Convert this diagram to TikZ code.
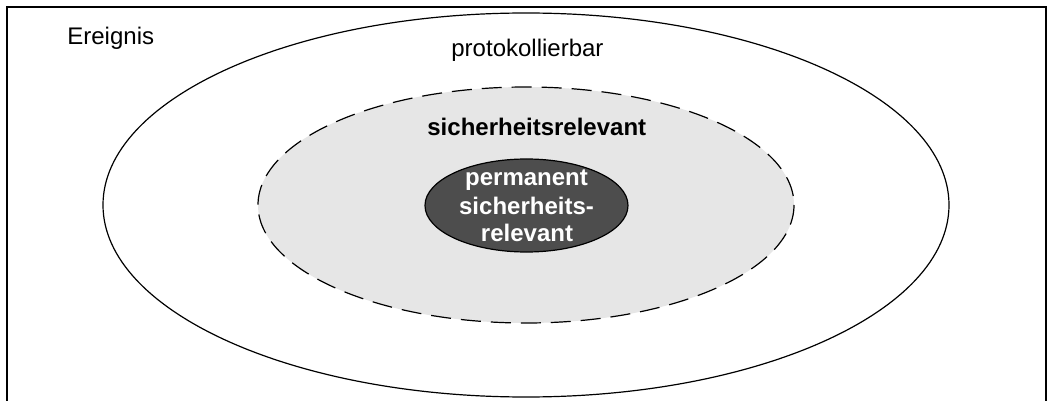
\documentclass[tikz,border=0pt]{standalone}
\usepackage{fontspec}
\setmainfont{Liberation Sans}
\usetikzlibrary{shapes.geometric}
\definecolor{midgray}{HTML}{E6E6E6}
\definecolor{darkgray}{HTML}{4D4D4D}
\tikzset{
  lbl/.style={font=\fontsize{12}{14.25}\selectfont, inner sep=0pt},
  boldlbl/.style={font=\fontsize{12}{14.25}\selectfont\bfseries, inner sep=0pt},
  frame/.style={line width=1pt, draw=black},
  ring/.style={line width=0.6pt, draw=black},
}
\begin{document}
\begin{tikzpicture}[x=0.5pt,y=-0.5pt]
\useasboundingbox (0,0) rectangle (1050,401);
\fill[white] (0,0) rectangle (1050,401);
% frame without bottom edge
\draw[frame] (6.5,401) -- (6.5,7) -- (1046,7) -- (1046,401);
% outer ellipse
\draw[ring] (526,205) ellipse [x radius=423, y radius=192];
% middle ellipse
\filldraw[ring, fill=midgray, dash pattern=on 10pt off 5pt] (526,205) ellipse [x radius=268, y radius=118];
% inner ellipse
\filldraw[ring, fill=darkgray] (526.5,205.5) ellipse [x radius=101.5, y radius=46.5];
% labels
\node[lbl, anchor=base west] (ereignis) at (67,45) {Ereignis};
\node[lbl, anchor=base west] (proto) at (451,57) {protokollierbar};
\node[boldlbl, anchor=base west] (sich) at (427,136) {sicherheitsrelevant};
\node[boldlbl, text=white, anchor=base] (perm1) at (526.5,185) {permanent};
\node[boldlbl, text=white, anchor=base] (perm2) at (526.5,214) {sicherheits-};
\node[boldlbl, text=white, anchor=base] (perm3) at (527,242) {relevant};
\end{tikzpicture}
\end{document}
